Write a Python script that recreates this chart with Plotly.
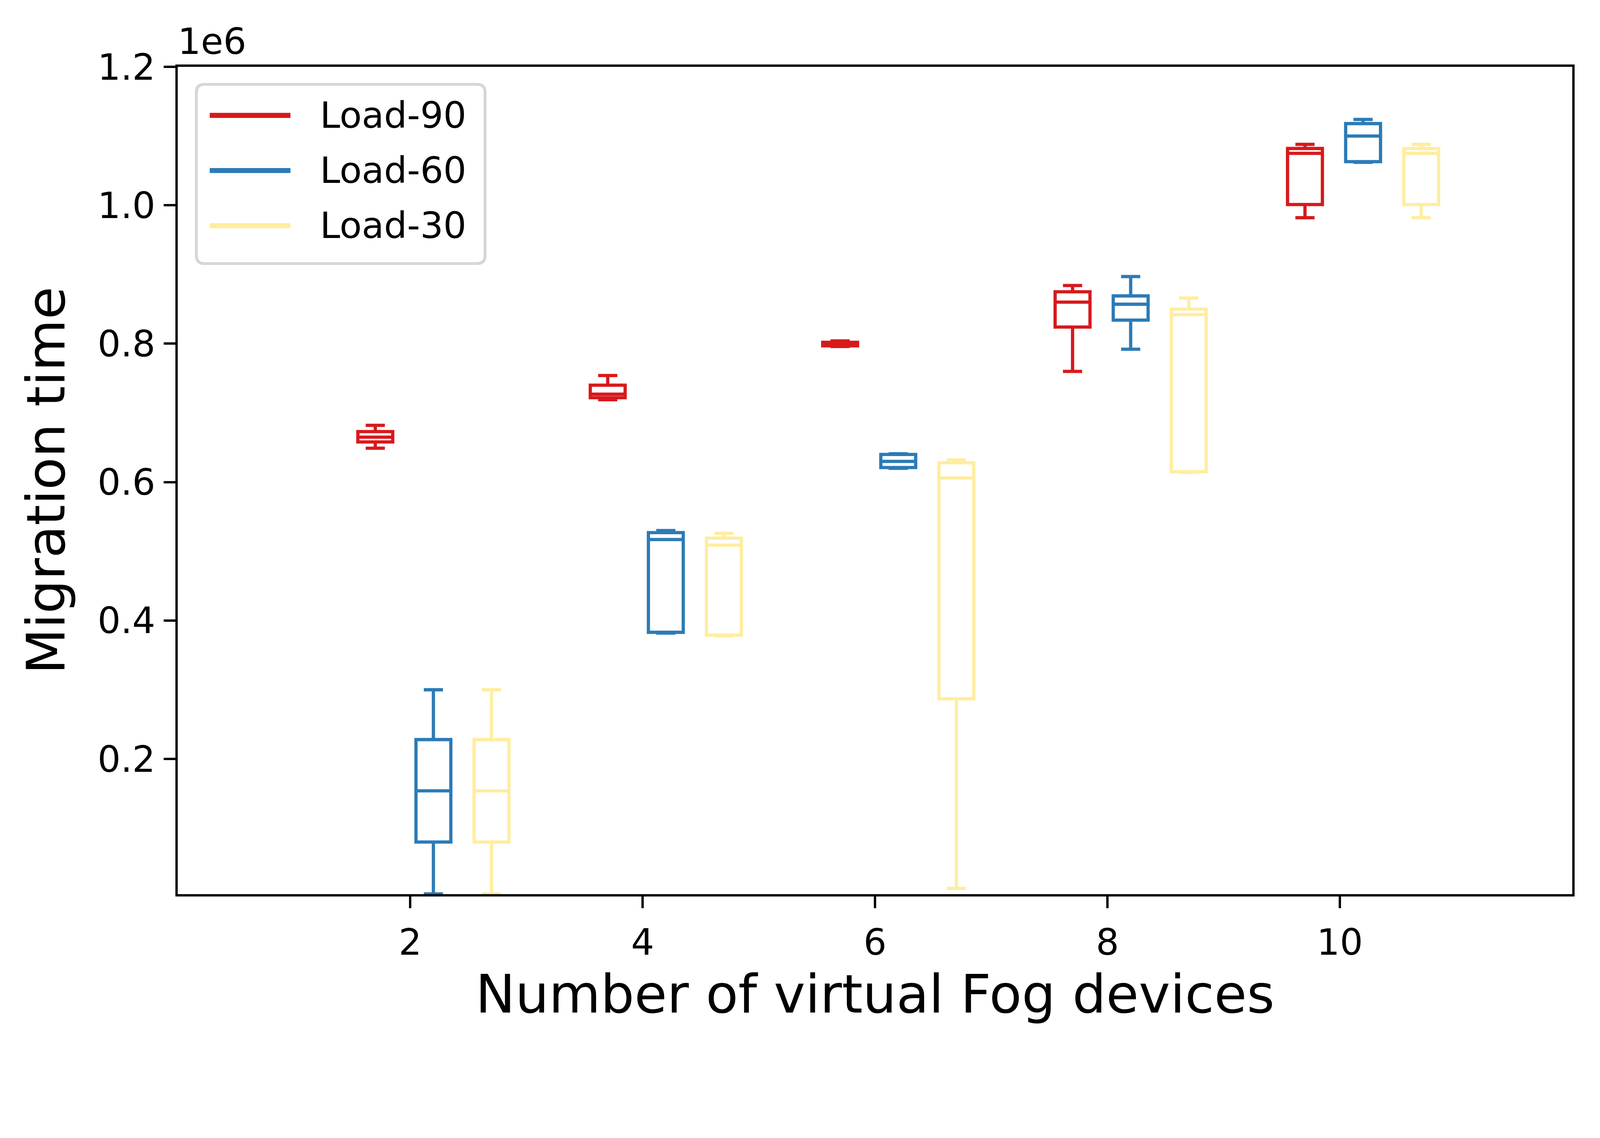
import plotly.graph_objects as go

# ---------------- data ----------------
devices = [2, 4, 6, 8, 10]
series_names = ["Load-90", "Load-60", "Load-30"]

load90_lower = [649000, 719000, 796000, 760000, 982000]
load90_q1 = [658000, 722000, 797000, 824000, 1001000]
load90_median = [665000, 727000, 799500, 860000, 1075000]
load90_q3 = [673000, 740000, 802000, 875000, 1082000]
load90_upper = [682000, 754000, 804000, 884000, 1088000]

load60_lower = [5000, 382000, 620000, 792000, 1062000]
load60_q1 = [80000, 383000, 621000, 834000, 1063000]
load60_median = [154000, 517000, 630000, 857000, 1100000]
load60_q3 = [228000, 527000, 640000, 869000, 1118000]
load60_upper = [300000, 530000, 641000, 897000, 1124000]

load30_lower = [5000, 378000, 13000, 614000, 982000]
load30_q1 = [80000, 379000, 287000, 615000, 1001000]
load30_median = [154000, 509000, 606000, 842000, 1075000]
load30_q3 = [228000, 519000, 628000, 850000, 1082000]
load30_upper = [300000, 526000, 632000, 866000, 1088000]

y_tick_vals = [200000, 400000, 600000, 800000, 1000000, 1200000]
y_tick_text = ["0.2", "0.4", "0.6", "0.8", "1.0", "1.2"]

# ---------------- style ----------------
colors = ["#d7191c", "#2c7bb6", "#ffeda0"]
offsets = [-0.3, 0.2, 0.7]
FONT = "DejaVu Sans"

K = 1 / 1.084      # screenshot pixels -> CSS pixels
BODY = 8           # default page margin

def s(v):
    return v * K

def pos(p):
    return p * K - BODY

W, H = 4061, 2670
ML = round(pos(493))
MT = round(pos(185))
PR = round(pos(4363))
PB = round(pos(2480))
MR = W - PR
MB = H - PB
PW, PH = PR - ML, PB - MT

TICK_FS = round(s(101))
TITLE_FS = round(s(147))

stats = [
    (load90_lower, load90_q1, load90_median, load90_q3, load90_upper),
    (load60_lower, load60_q1, load60_median, load60_q3, load60_upper),
    (load30_lower, load30_q1, load30_median, load30_q3, load30_upper),
]

fig = go.Figure()
for name, color, off, (lo, q1, med, q3, hi) in zip(series_names, colors, offsets, stats):
    fig.add_trace(go.Box(
        name=name,
        x=[d + off for d in devices],
        lowerfence=lo, q1=q1, median=med, q3=q3, upperfence=hi,
        width=0.3,
        whiskerwidth=0.55,
        boxpoints=False,
        fillcolor="rgba(0,0,0,0)",
        line=dict(color=color, width=s(9)),
        showlegend=False,
        hoverinfo="skip",
    ))

# ---------------- manual legend (matplotlib style) ----------------
def px_to_paper_x(p):
    return (pos(p) - ML) / PW

def px_to_paper_y(p):
    return 1 - (pos(p) - MT) / PH

lx0, lx1, ly0, ly1 = 545, 1346, 234, 731
r = s(22)
rx, ry = r / PW, r / PH
X0, X1 = px_to_paper_x(lx0), px_to_paper_x(lx1)
Y0, Y1 = px_to_paper_y(ly1), px_to_paper_y(ly0)  # bottom, top
path = (
    f"M{X0 + rx},{Y1} L{X1 - rx},{Y1} Q{X1},{Y1} {X1},{Y1 - ry} "
    f"L{X1},{Y0 + ry} Q{X1},{Y0} {X1 - rx},{Y0} "
    f"L{X0 + rx},{Y0} Q{X0},{Y0} {X0},{Y0 + ry} "
    f"L{X0},{Y1 - ry} Q{X0},{Y1} {X0 + rx},{Y1} Z"
)
shapes = [dict(type="path", xref="paper", yref="paper", path=path,
               line=dict(color="#d6d6d6", width=s(8)), fillcolor="rgba(255,255,255,0.8)",
               layer="above")]
annotations = []
entry_y = [320, 473, 626]
for name, color, py in zip(series_names, colors, entry_y):
    yp = px_to_paper_y(py)
    shapes.append(dict(type="line", xref="paper", yref="paper",
                       x0=px_to_paper_x(582), x1=px_to_paper_x(806), y0=yp, y1=yp,
                       line=dict(color=color, width=s(14)), layer="above"))
    annotations.append(dict(text=name, xref="paper", yref="paper",
                            x=px_to_paper_x(886), y=yp, xanchor="left", yanchor="middle",
                            showarrow=False, font=dict(family=FONT, size=TICK_FS, color="black")))

# exponent label
annotations.append(dict(text="1e6", xref="paper", yref="paper", x=0, y=1,
                        xanchor="left", yanchor="bottom", xshift=-2, yshift=s(10),
                        showarrow=False, font=dict(family=FONT, size=TICK_FS, color="black")))

axis_common = dict(
    showline=True, mirror=True, linecolor="black", linewidth=s(7),
    ticks="outside", ticklen=s(32), tickwidth=s(7), tickcolor="black",
    showgrid=False, zeroline=False,
    tickfont=dict(family=FONT, size=TICK_FS, color="black"),
)

fig.update_layout(
    width=W, height=H,
    margin=dict(l=ML, r=MR, t=MT, b=MB, pad=0),
    paper_bgcolor="white", plot_bgcolor="white",
    font=dict(family=FONT, size=TICK_FS, color="black"),
    boxmode="overlay",
    shapes=shapes,
    annotations=annotations,
    showlegend=False,
    xaxis=dict(
        range=[0, 12], tickvals=devices, ticktext=[str(d) for d in devices],
        ticklabelstandoff=8,
        title=dict(text="Number of virtual Fog devices",
                   font=dict(family=FONT, size=TITLE_FS, color="black"), standoff=8),
        **axis_common,
    ),
    yaxis=dict(
        range=[4700, 1200000], tickvals=y_tick_vals, ticktext=y_tick_text,
        ticklabelstandoff=3,
        title=dict(text="Migration time",
                   font=dict(family=FONT, size=TITLE_FS, color="black"), standoff=40),
        **axis_common,
    ),
)

fig.write_html("out.html")
